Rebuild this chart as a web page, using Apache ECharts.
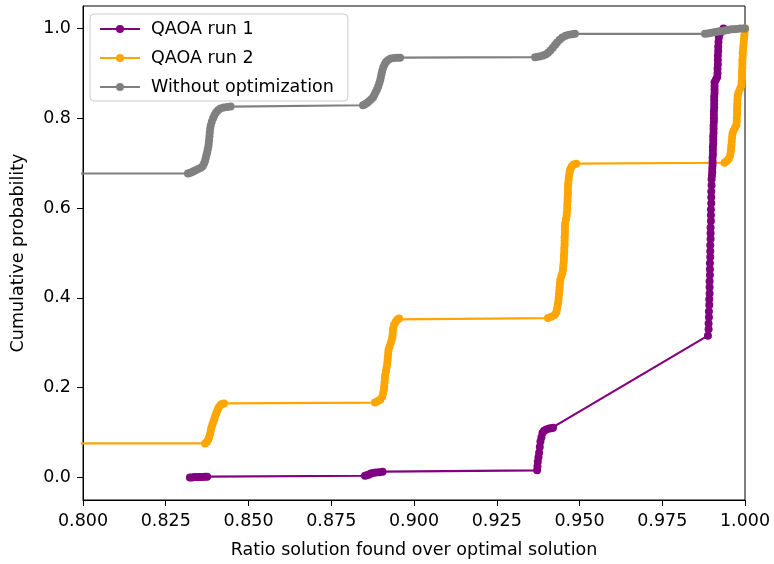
<!DOCTYPE html>
<html>
<head>
<meta charset="utf-8">
<script src="https://cdn.jsdelivr.net/npm/echarts@6/dist/echarts.min.js"></script>
<style>html,body{margin:0;padding:0;background:#fff}#c{width:774px;height:564px}</style>
</head>
<body>
<div id="c"></div>
<script>
var seriesNames = ['QAOA run 1', 'QAOA run 2', 'Without optimization'];
var xTicks = [0.800, 0.825, 0.850, 0.875, 0.900, 0.925, 0.950, 0.975, 1.000];
var yTicks = [0.0, 0.2, 0.4, 0.6, 0.8, 1.0];

var qaoaRun1 = [
  [0.8323,0.000],[0.8330,0.000],[0.8337,0.001],[0.8345,0.001],[0.8352,0.001],[0.8360,0.001],[0.8368,0.002],[0.8375,0.002],
  [0.8852,0.004],[0.8858,0.005],[0.8864,0.007],[0.8870,0.009],[0.8876,0.010],[0.8885,0.011],[0.8895,0.012],[0.8905,0.013],
  [0.9372,0.016],[0.9373,0.025],[0.9374,0.035],[0.9376,0.045],[0.9378,0.055],[0.9380,0.068],[0.9382,0.080],[0.9385,0.090],
  [0.9388,0.099],[0.9393,0.104],[0.9400,0.107],[0.9408,0.109],[0.9415,0.110],[0.9420,0.111],
  [0.9888,0.316],[0.9890,0.330],[0.9890,0.343],[0.9891,0.357],[0.9891,0.370],[0.9892,0.384],[0.9892,0.397],[0.9893,0.410],
  [0.9893,0.424],[0.9893,0.437],[0.9894,0.451],[0.9894,0.464],[0.9894,0.477],[0.9895,0.491],[0.9895,0.504],[0.9895,0.517],
  [0.9896,0.531],[0.9896,0.544],[0.9896,0.557],[0.9897,0.571],[0.9897,0.584],[0.9897,0.597],[0.9898,0.611],[0.9898,0.624],
  [0.9898,0.637],[0.9899,0.651],[0.9899,0.664],
  [0.9900,0.672],[0.9901,0.680],[0.9901,0.688],[0.9902,0.696],[0.9902,0.704],[0.9902,0.712],[0.9903,0.720],[0.9903,0.728],
  [0.9903,0.736],[0.9904,0.744],[0.9904,0.752],[0.9904,0.760],[0.9905,0.768],[0.9905,0.776],[0.9905,0.784],[0.9906,0.792],
  [0.9906,0.800],[0.9906,0.808],[0.9906,0.816],[0.9907,0.824],[0.9907,0.832],[0.9907,0.840],[0.9907,0.848],[0.9908,0.856],
  [0.9908,0.864],[0.9908,0.872],[0.9908,0.880],[0.9912,0.886],[0.9916,0.892],[0.9917,0.900],[0.9917,0.910],[0.9918,0.920],
  [0.9918,0.930],[0.9918,0.940],[0.9919,0.950],[0.9919,0.960],[0.9920,0.970],[0.9921,0.980],[0.9924,0.988],[0.9929,0.994],
  [0.9935,1.000]
];

var qaoaRun2 = [
  [0.7500,0.076],[0.8369,0.076],[0.8374,0.079],[0.8378,0.084],[0.8381,0.090],[0.8384,0.097],[0.8386,0.104],[0.8388,0.111],
  [0.8391,0.118],[0.8394,0.124],[0.8397,0.131],[0.8400,0.138],[0.8403,0.144],[0.8406,0.150],[0.8410,0.156],[0.8415,0.161],
  [0.8420,0.164],[0.8426,0.165],
  [0.8882,0.167],[0.8890,0.170],[0.8898,0.174],[0.8904,0.180],[0.8907,0.188],[0.8909,0.196],[0.8910,0.204],[0.8911,0.212],
  [0.8912,0.220],[0.8913,0.228],[0.8915,0.236],[0.8917,0.244],[0.8919,0.252],[0.8920,0.260],[0.8921,0.268],[0.8922,0.276],
  [0.8923,0.284],[0.8926,0.292],[0.8930,0.300],[0.8933,0.308],[0.8935,0.316],[0.8936,0.324],[0.8937,0.332],[0.8940,0.340],
  [0.8945,0.347],[0.8950,0.352],[0.8955,0.354],
  [0.9405,0.355],[0.9415,0.358],[0.9425,0.362],[0.9430,0.368],[0.9432,0.376],[0.9434,0.384],[0.9436,0.392],[0.9437,0.400],
  [0.9438,0.408],[0.9439,0.416],[0.9440,0.424],[0.9441,0.432],[0.9442,0.440],[0.9445,0.448],[0.9448,0.455],[0.9450,0.463],
  [0.9451,0.471],[0.9452,0.479],[0.9453,0.487],[0.9453,0.495],[0.9454,0.503],[0.9454,0.511],[0.9455,0.519],[0.9455,0.527],
  [0.9455,0.535],[0.9456,0.543],[0.9456,0.551],[0.9456,0.559],[0.9457,0.567],[0.9459,0.575],[0.9461,0.583],[0.9462,0.591],
  [0.9463,0.599],[0.9463,0.607],[0.9464,0.615],[0.9464,0.623],[0.9465,0.631],[0.9465,0.639],[0.9465,0.647],[0.9466,0.655],
  [0.9467,0.663],[0.9468,0.671],[0.9470,0.679],[0.9472,0.686],[0.9476,0.692],[0.9482,0.697],[0.9490,0.699],
  [0.9938,0.701],[0.9945,0.705],[0.9951,0.710],[0.9955,0.717],[0.9957,0.725],[0.9958,0.733],[0.9959,0.741],[0.9960,0.749],
  [0.9961,0.757],[0.9962,0.765],[0.9965,0.772],[0.9970,0.779],[0.9974,0.785],[0.9975,0.793],[0.9975,0.801],[0.9976,0.809],
  [0.9976,0.817],[0.9976,0.825],[0.9977,0.833],[0.9977,0.841],[0.9978,0.849],[0.9980,0.857],[0.9985,0.865],[0.9989,0.873],
  [0.9990,0.881],[0.9991,0.889],[0.9991,0.897],[0.9991,0.905],[0.9992,0.913],[0.9992,0.921],[0.9992,0.929],[0.9993,0.937],
  [0.9993,0.945],[0.9994,0.953],[0.9995,0.961],[0.9996,0.969],[0.9997,0.977],[0.9998,0.985],[0.9999,0.993],[1.0000,1.000]
];

var withoutOpt = [
  [0.7500,0.677],[0.8317,0.677],[0.8322,0.678],[0.8328,0.680],[0.8334,0.682],[0.8340,0.684],[0.8348,0.687],[0.8356,0.690],
  [0.8362,0.694],[0.8366,0.700],[0.8369,0.706],[0.8371,0.712],[0.8373,0.718],[0.8375,0.724],[0.8377,0.731],[0.8379,0.738],
  [0.8380,0.745],[0.8381,0.752],[0.8382,0.760],[0.8383,0.768],[0.8384,0.776],[0.8386,0.784],[0.8389,0.792],[0.8393,0.800],
  [0.8397,0.807],[0.8402,0.813],[0.8408,0.818],[0.8415,0.822],[0.8425,0.824],[0.8436,0.825],[0.8446,0.826],
  [0.8846,0.829],[0.8852,0.831],[0.8858,0.834],[0.8864,0.838],[0.8870,0.842],[0.8876,0.846],[0.8880,0.852],[0.8884,0.858],
  [0.8888,0.864],[0.8892,0.871],[0.8895,0.878],[0.8898,0.885],[0.8900,0.892],[0.8902,0.899],[0.8904,0.906],[0.8907,0.913],
  [0.8911,0.920],[0.8916,0.926],[0.8922,0.930],[0.8930,0.933],[0.8940,0.934],[0.8950,0.935],[0.8958,0.935],
  [0.9366,0.936],[0.9374,0.937],[0.9382,0.938],[0.9390,0.940],[0.9398,0.942],[0.9405,0.946],[0.9412,0.951],[0.9419,0.957],
  [0.9426,0.963],[0.9432,0.969],[0.9440,0.975],[0.9448,0.980],[0.9458,0.984],[0.9468,0.986],[0.9478,0.987],[0.9486,0.988],
  [0.9879,0.988],[0.9887,0.989],[0.9895,0.990],[0.9903,0.991],[0.9911,0.992],[0.9919,0.993],[0.9927,0.994],[0.9935,0.995],
  [0.9943,0.996],[0.9951,0.997],[0.9959,0.998],[0.9967,0.998],[0.9975,0.999],[0.9985,1.000],[0.9995,1.000],[1.0000,1.000]
];

var colors = ['#800080', '#ffa500', '#808080'];
var datasets = [qaoaRun1, qaoaRun2, withoutOpt];
var font = 'DejaVu Sans';
var fs = 17.5;

var chart = echarts.init(document.getElementById('c'), null, {renderer: 'canvas'});
chart.setOption({
  animation: false,
  backgroundColor: '#ffffff',
  textStyle: {fontFamily: font},
  grid: {left: 83, right: 29, top: 6, bottom: 64, show: true, borderColor: '#000', borderWidth: 1, containLabel: false},
  legend: {
    orient: 'vertical', left: 90, top: 14,
    data: seriesNames,
    itemWidth: 40, itemHeight: 10, itemGap: 11,
    padding: [6, 14, 5, 9],
    backgroundColor: 'rgba(255,255,255,0.8)',
    borderColor: '#cccccc', borderWidth: 1, borderRadius: 4,
    textStyle: {fontFamily: font, fontSize: fs, color: '#000', padding: [0, 0, 0, 6]}
  },
  xAxis: {
    type: 'value', min: 0.8, max: 1.0,
    name: 'Ratio solution found over optimal solution',
    nameLocation: 'middle', nameGap: 41,
    nameTextStyle: {fontFamily: font, fontSize: fs, color: '#000'},
    axisLine: {show: true, onZero: false, lineStyle: {color: '#000', width: 1}},
    axisTick: {show: true, length: 6, customValues: xTicks, lineStyle: {color: '#000'}},
    axisLabel: {customValues: xTicks, margin: 12, fontSize: fs, color: '#000', fontFamily: font,
      formatter: function (v) { return v.toFixed(3); }},
    splitLine: {show: false}
  },
  yAxis: {
    type: 'value', min: -0.05, max: 1.05,
    name: 'Cumulative probability',
    nameLocation: 'middle', nameGap: 56, nameRotate: 90,
    nameTextStyle: {fontFamily: font, fontSize: fs, color: '#000'},
    axisLine: {show: true, onZero: false, lineStyle: {color: '#000', width: 1}},
    axisTick: {show: true, length: 6, customValues: yTicks, lineStyle: {color: '#000'}},
    axisLabel: {customValues: yTicks, margin: 12, fontSize: fs, color: '#000', fontFamily: font,
      formatter: function (v) { return v.toFixed(1); }},
    splitLine: {show: false}
  },
  series: seriesNames.map(function (name, i) {
    return {
      name: name, type: 'line', data: datasets[i],
      clip: true,
      symbol: 'circle', symbolSize: 8, showSymbol: true,
      color: colors[i],
      itemStyle: {color: colors[i]},
      lineStyle: {color: colors[i], width: 2.2},
      emphasis: {disabled: true}
    };
  })
});
</script>
</body>
</html>
